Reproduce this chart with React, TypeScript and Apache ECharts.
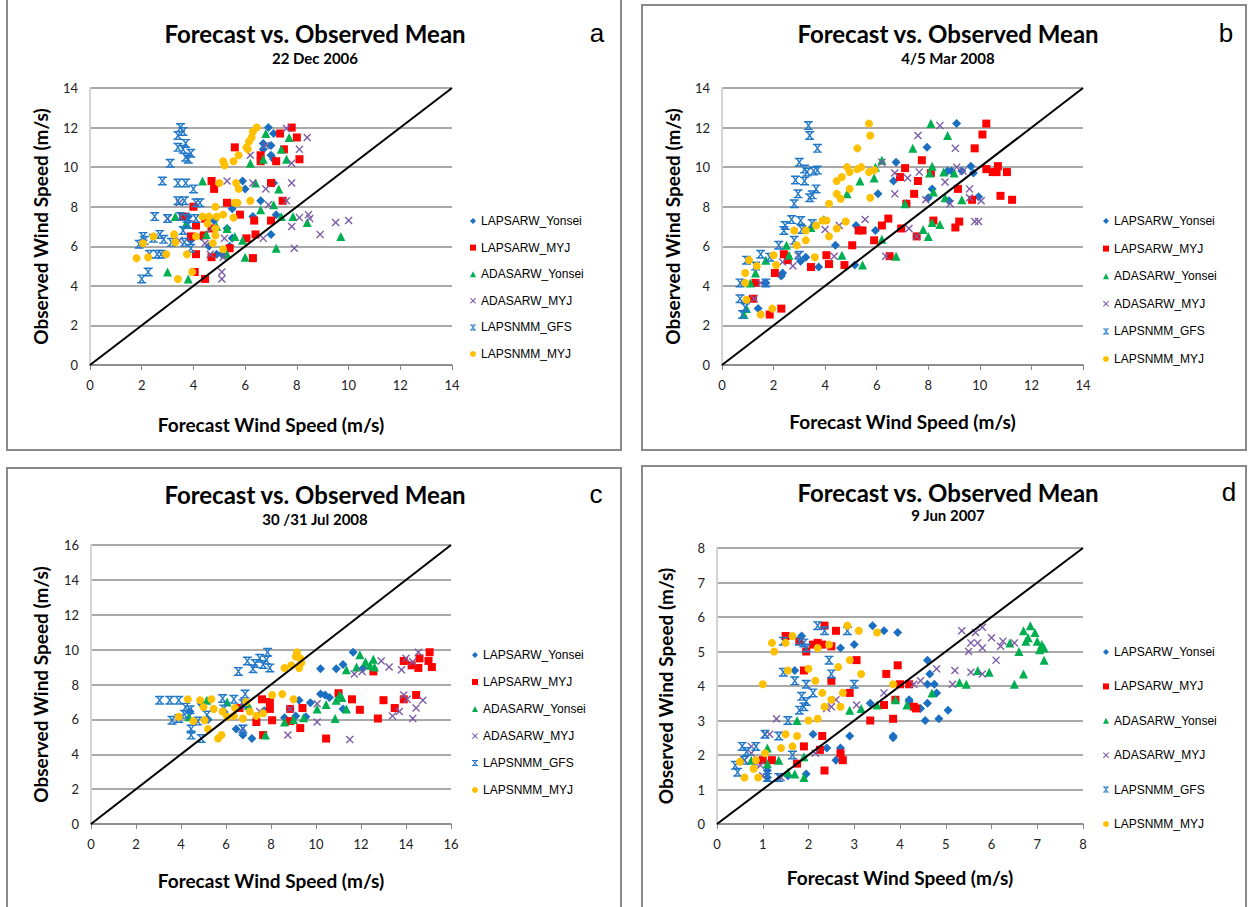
import React, { useEffect, useRef } from "react";
import * as echarts from "echarts";

// ---------- data ----------
const seriesNames = ["LAPSARW_Yonsei", "LAPSARW_MYJ", "ADASARW_Yonsei", "ADASARW_MYJ", "LAPSNMM_GFS", "LAPSNMM_MYJ"];

// Panel a: 22 Dec 2006
const aLapsarwYonsei = [[6.9,12.0],[7.1,11.7],[6.7,11.2],[7.0,11.1],[6.7,10.9],[7.0,10.6],[7.1,10.4],[5.9,9.3],[6.0,8.9],[7.1,9.2],[6.6,8.3],[5.5,7.9],[7.2,7.6],[3.8,7.5],[5.3,6.9],[7.0,6.6],[4.3,6.5],[4.9,5.6],[5.1,5.6],[5.4,6.0],[5.5,6.4],[4.6,6.0],[3.9,6.3],[6.3,7.5],[4.8,7.3]];
const aLapsarwMyj = [[7.8,12.0],[7.35,11.7],[8.0,11.5],[5.6,11.0],[6.6,10.6],[7.5,10.9],[8.1,10.4],[7.2,10.3],[6.6,10.3],[4.7,9.3],[4.8,8.9],[7.0,9.2],[5.3,8.2],[7.45,8.3],[4.0,8.0],[3.6,7.5],[4.45,7.4],[5.8,7.6],[6.35,7.3],[7.0,7.3],[4.1,7.05],[4.7,6.9],[3.9,6.5],[4.4,6.55],[5.4,5.9],[6.4,6.6],[6.05,6.4],[4.1,5.6],[4.7,5.45],[6.3,5.4],[4.05,4.7],[4.45,4.35]];
const aAdasarwYonsei = [[6.8,11.7],[7.7,11.5],[7.4,10.9],[6.2,10.2],[6.7,10.4],[7.6,10.4],[4.35,9.3],[6.4,9.2],[7.3,8.9],[6.6,7.85],[7.1,8.1],[7.4,7.5],[8.4,7.2],[9.7,6.5],[7.2,5.9],[5.3,6.9],[4.5,6.6],[5.6,6.5],[5.9,6.3],[3.3,7.5],[3.7,7.1],[4.9,7.0],[5.3,5.6],[6.0,5.45],[3.0,4.7],[3.8,4.35],[7.85,7.5]];
const aAdasarwMyj = [[7.6,11.95],[8.4,11.5],[8.1,10.9],[7.8,10.2],[6.8,11.1],[6.2,10.6],[5.3,9.3],[6.3,9.2],[6.8,8.9],[7.8,9.2],[7.6,8.3],[6.9,8.1],[3.45,8.2],[8.45,7.6],[8.5,7.4],[8.1,7.45],[9.5,7.2],[10.0,7.3],[7.8,7.0],[6.7,6.4],[8.9,6.6],[7.9,5.9],[3.0,7.4],[4.7,6.9],[5.2,6.4],[4.45,6.15],[4.65,5.6],[5.15,5.45],[5.1,4.7],[5.1,4.35],[3.45,6.3]];
const aLapsnmmGfs = [[3.5,12.0],[3.6,11.8],[3.4,11.6],[3.4,11.0],[3.7,11.2],[3.6,10.9],[3.7,10.5],[3.8,10.4],[3.1,10.2],[3.9,10.7],[2.8,9.3],[3.4,9.2],[3.7,9.2],[4.0,8.9],[3.4,8.3],[3.65,8.3],[4.1,8.2],[4.25,8.2],[2.5,7.5],[3.0,7.4],[3.5,7.5],[3.75,7.4],[4.1,7.4],[3.8,7.1],[3.6,6.8],[2.05,6.5],[2.1,6.3],[2.45,6.4],[2.7,6.6],[2.85,6.35],[3.15,6.2],[3.65,6.2],[3.9,5.9],[2.3,5.6],[2.6,5.6],[2.75,5.6],[2.25,4.7],[2.0,4.35],[1.9,6.1]];
const aLapsnmmMyj = [[6.45,12.0],[6.3,11.8],[6.25,11.5],[6.15,11.3],[6.05,11.0],[6.1,10.9],[5.75,10.6],[5.55,10.3],[5.15,10.3],[5.2,10.1],[5.0,9.2],[5.65,9.2],[5.75,8.9],[5.6,8.2],[5.7,8.2],[6.2,8.3],[4.85,8.0],[4.35,7.5],[4.6,7.5],[4.9,7.5],[5.15,7.6],[5.55,7.45],[4.55,7.15],[4.85,6.9],[2.45,6.5],[2.05,6.15],[3.25,6.6],[3.3,6.2],[4.1,6.5],[4.85,6.55],[4.75,6.15],[1.8,5.4],[2.25,5.45],[2.95,5.6],[3.75,5.6],[5.15,5.85],[3.95,4.7],[3.4,4.35]];

// Panel b: 4/5 Mar 2008
const bLapsarwYonsei = [[9.1,12.2],[7.95,11.0],[6.75,10.25],[8.9,9.8],[9.65,10.05],[9.75,9.7],[9.3,9.8],[8.75,9.8],[6.65,9.3],[8.15,8.9],[8.0,8.45],[8.8,8.3],[6.05,8.65],[5.2,7.05],[5.95,6.8],[4.4,6.05],[3.75,4.95],[3.25,5.45],[3.05,5.25],[2.35,4.65],[1.7,4.15],[5.15,5.05],[7.15,8.15],[2.3,4.5],[1.4,2.85],[9.95,8.5]];
const bLapsarwMyj = [[10.25,12.2],[10.1,11.65],[9.8,10.95],[7.75,10.35],[7.1,9.95],[8.1,9.7],[7.6,9.3],[6.9,9.5],[7.45,8.65],[9.15,8.9],[7.15,8.15],[9.7,8.35],[10.25,9.9],[10.5,9.75],[10.7,10.05],[10.65,9.75],[11.05,9.75],[10.8,8.55],[11.25,8.35],[6.45,7.4],[6.2,7.05],[5.45,6.8],[5.3,6.8],[6.95,6.9],[7.55,6.5],[8.2,7.3],[9.2,7.25],[9.05,6.95],[5.9,6.3],[5.05,6.05],[4.05,5.55],[6.5,5.5],[4.15,5.1],[3.45,4.95],[4.75,5.05],[2.4,5.6],[2.55,5.3],[2.05,4.65],[1.3,4.15],[1.2,3.35],[1.85,2.55],[2.3,2.85]];
const bAdasarwYonsei = [[8.1,12.2],[8.75,11.6],[7.4,10.95],[6.2,10.35],[5.95,10.0],[5.9,9.45],[5.35,9.3],[8.15,10.05],[8.05,9.7],[8.6,9.75],[9.0,9.7],[9.3,8.35],[7.1,8.15],[8.2,8.75],[4.85,8.65],[3.95,7.35],[3.45,6.95],[7.8,6.85],[8.45,7.1],[8.15,7.2],[8.0,6.5],[6.2,6.35],[2.5,6.05],[2.6,5.55],[4.65,5.55],[6.75,5.5],[5.45,5.05],[1.7,5.3],[1.3,4.65],[1.1,4.15],[0.95,2.85],[0.85,2.55],[8.65,8.45]];
const bAdasarwMyj = [[8.45,12.1],[7.6,11.6],[9.05,10.95],[6.2,10.25],[6.7,9.7],[7.65,9.75],[7.2,9.45],[9.1,10.0],[9.35,9.8],[8.65,9.25],[9.6,8.9],[7.9,8.35],[8.85,8.15],[9.6,8.45],[10.05,8.3],[6.7,8.65],[5.55,7.35],[4.55,7.05],[4.0,6.85],[7.25,6.9],[7.55,6.5],[9.8,7.25],[9.95,7.25],[6.35,5.5],[4.35,5.5],[2.95,5.55],[2.75,5.0],[2.35,5.2],[1.5,4.15],[1.25,3.35]];
const bLapsnmmGfs = [[3.35,12.1],[3.4,11.6],[3.7,10.95],[3.0,10.25],[3.2,9.9],[3.3,9.75],[3.55,9.8],[3.7,9.85],[2.85,9.35],[3.2,9.3],[3.65,8.9],[2.95,8.65],[3.4,8.45],[3.5,8.6],[2.8,8.15],[2.7,7.35],[3.05,7.3],[2.45,7.05],[3.5,7.15],[2.4,6.8],[2.8,6.3],[3.1,6.85],[2.2,6.05],[1.5,5.6],[1.85,5.45],[3.0,5.55],[0.95,5.3],[1.3,5.0],[0.7,4.15],[1.7,4.15],[0.7,3.35],[0.9,2.9],[0.8,2.55]];
const bLapsnmmMyj = [[5.7,12.2],[5.75,11.6],[5.25,10.95],[4.85,10.0],[4.95,9.75],[5.25,9.9],[5.4,10.0],[5.7,9.75],[5.9,9.85],[4.45,9.3],[4.65,9.5],[4.95,8.9],[4.45,8.65],[4.6,8.4],[4.15,8.15],[5.75,8.45],[4.05,7.3],[3.9,7.3],[4.45,6.9],[4.8,7.25],[4.15,6.5],[3.65,7.05],[3.25,6.8],[3.25,6.3],[2.8,6.8],[2.9,6.05],[2.0,5.55],[2.1,5.05],[3.6,5.45],[1.35,5.0],[1.05,5.3],[0.9,4.65],[0.9,4.15],[0.95,3.3],[1.95,2.85],[1.5,2.55]];

// Panel c: 30/31 Jul 2008
const cLapsarwYonsei = [[11.65,9.85],[11.2,9.15],[10.9,8.9],[10.2,8.9],[12.1,8.95],[10.2,7.45],[10.4,7.4],[10.6,7.25],[9.25,7.1],[9.75,6.95],[9.1,6.2],[9.55,6.15],[7.15,4.9],[6.75,5.1],[4.4,6.45],[5.9,6.45],[6.45,5.45],[11.2,6.6],[7.7,6.5],[8.6,6.1],[5.2,6.0],[4.9,6.9]];
const cLapsarwMyj = [[15.05,9.85],[14.6,9.5],[15.0,9.35],[14.55,8.95],[15.15,9.0],[13.9,9.35],[14.25,9.1],[12.55,8.75],[14.45,7.4],[13.9,7.15],[13.0,7.1],[13.5,6.65],[12.75,6.05],[11.95,6.55],[11.6,7.15],[11.0,7.5],[10.45,4.9],[9.3,5.5],[8.85,5.9],[8.05,5.95],[7.65,5.1],[7.6,7.15],[7.95,7.0],[7.95,6.6],[9.4,6.65],[6.6,6.65],[7.35,5.85],[8.85,6.6]];
const cAdasarwYonsei = [[11.95,9.7],[12.55,9.45],[12.4,9.1],[11.35,8.85],[11.8,9.0],[12.6,9.0],[12.2,9.3],[11.05,7.4],[10.9,7.1],[11.15,7.25],[11.35,6.6],[10.45,6.85],[10.05,6.6],[9.45,6.1],[8.6,5.85],[7.75,5.1],[5.15,7.1],[4.35,6.15],[7.0,6.8],[10.85,6.05],[6.05,7.0],[9.0,6.0]];
const cAdasarwMyj = [[14.55,9.85],[14.0,9.5],[14.3,9.3],[13.8,8.85],[12.9,9.35],[13.25,9.0],[12.05,8.75],[14.75,7.1],[14.45,6.65],[13.9,7.4],[14.05,7.15],[13.7,6.45],[13.4,6.2],[14.3,6.05],[11.5,4.85],[10.05,6.9],[10.05,5.85],[8.85,6.6],[8.75,5.1],[6.75,5.5],[6.8,7.05],[7.5,6.45],[11.7,8.6]];
const cLapsnmmGfs = [[7.85,9.85],[7.5,9.5],[6.95,9.35],[7.3,9.2],[7.65,9.15],[7.2,8.9],[7.95,8.95],[6.55,8.75],[7.8,9.4],[3.05,7.1],[3.5,7.1],[3.9,7.1],[5.85,7.2],[6.35,7.15],[6.85,7.45],[4.2,6.7],[4.4,6.55],[3.9,6.05],[3.6,5.95],[4.75,5.9],[4.45,5.45],[4.45,5.1],[4.9,4.9],[5.9,6.6],[5.15,6.25],[6.75,5.45],[6.75,6.9],[4.15,6.3]];
const cLapsnmmMyj = [[9.15,9.85],[9.3,9.5],[9.35,9.25],[8.9,9.1],[8.6,8.95],[9.25,8.95],[9.1,9.6],[8.05,7.4],[8.5,7.45],[9.0,7.15],[4.3,7.15],[4.85,7.1],[5.35,7.15],[5.0,6.7],[5.45,6.6],[5.85,6.45],[6.05,6.15],[6.35,6.2],[6.75,6.05],[7.05,6.45],[7.35,6.2],[7.65,6.35],[3.9,6.15],[4.55,5.9],[5.2,5.45],[5.8,5.1],[5.65,4.9],[6.4,6.65],[6.9,7.0],[5.05,5.95]];

// Panel d: 9 Jun 2007
const dLapsarwYonsei = [[3.4,5.75],[3.65,5.6],[3.95,5.55],[1.85,5.45],[3.0,5.2],[2.7,5.1],[1.7,4.45],[3.35,3.5],[4.2,3.6],[2.1,2.6],[2.9,2.55],[3.85,2.55],[2.4,2.2],[2.7,2.2],[2.6,1.85],[1.1,1.55],[1.95,1.45],[1.1,1.35],[1.55,1.4],[4.6,4.75],[4.65,4.35],[4.75,4.05],[4.6,4.05],[4.2,3.55],[4.6,3.5],[4.45,3.35],[5.05,3.3],[4.55,3.0],[4.85,3.05],[3.85,2.5],[4.8,3.8]];
const dLapsarwMyj = [[2.35,5.75],[2.6,5.6],[1.5,5.45],[1.8,5.3],[1.95,5.0],[2.1,5.2],[2.2,5.25],[2.3,5.2],[2.5,5.15],[3.05,4.75],[1.9,4.45],[2.5,4.15],[2.9,3.8],[3.35,3.0],[3.7,4.35],[3.95,4.6],[4.0,4.05],[4.2,4.05],[3.85,3.05],[4.3,3.4],[2.3,2.55],[1.9,2.25],[2.25,2.15],[2.7,2.05],[2.75,1.85],[1.2,1.85],[1.75,1.75],[2.35,1.55],[1.0,1.85],[3.65,3.45],[3.9,3.6],[4.35,3.35]];
const dAdasarwYonsei = [[2.9,3.3],[3.15,3.35],[3.5,3.45],[3.9,3.6],[4.15,3.45],[1.75,3.0],[1.9,1.95],[1.7,1.45],[1.9,1.35],[1.55,1.5],[1.1,2.2],[1.35,1.85],[0.75,1.85],[1.1,1.75],[5.3,4.1],[5.45,4.05],[5.7,4.45],[5.95,4.4],[6.5,4.05],[6.7,4.35],[6.85,5.75],[6.7,5.6],[6.95,5.55],[6.8,5.4],[6.75,5.3],[7.0,5.3],[7.1,5.2],[7.15,5.1],[7.05,5.05],[6.6,5.0],[6.4,5.25],[7.15,4.75],[4.7,3.8]];
const dAdasarwMyj = [[5.35,5.6],[5.65,5.55],[5.8,5.7],[6.0,5.4],[5.55,5.25],[5.7,5.25],[5.8,5.1],[5.5,5.0],[6.25,5.3],[6.5,5.25],[6.2,5.15],[6.1,4.75],[5.2,4.45],[5.55,4.4],[5.8,4.35],[5.15,4.05],[4.8,4.5],[4.45,4.15],[4.3,4.05],[1.3,3.05],[2.4,3.35],[2.5,3.4],[2.6,3.6],[3.05,3.45],[3.65,3.8],[2.15,2.05],[1.05,2.6],[1.15,2.6],[0.75,2.25],[0.75,2.05],[0.85,1.75],[0.95,1.7],[1.0,1.4],[1.4,1.35],[0.6,1.85]];
const dLapsnmmGfs = [[2.2,5.75],[2.35,5.6],[2.85,5.6],[1.45,5.3],[1.9,5.25],[1.95,5.1],[2.45,4.75],[1.45,4.4],[2.5,4.35],[1.7,4.15],[1.95,4.05],[3.0,4.05],[2.1,3.8],[1.85,3.7],[1.95,3.55],[1.9,3.4],[1.8,3.3],[1.55,3.0],[1.05,2.6],[1.35,2.55],[0.55,2.25],[0.65,2.1],[0.4,1.7],[0.45,1.5],[0.6,1.85],[0.85,2.25],[1.65,2.0],[1.35,1.35],[1.1,1.35],[1.8,5.3]];
const dLapsnmmMyj = [[2.85,5.75],[3.1,5.6],[3.5,5.55],[1.65,5.45],[1.2,5.25],[1.5,5.25],[1.25,5.0],[2.45,5.2],[2.2,5.1],[2.9,4.75],[3.15,4.35],[2.65,4.55],[2.0,4.5],[1.55,4.45],[1.0,4.05],[2.15,4.15],[3.85,4.05],[2.75,3.8],[2.3,3.8],[2.5,3.6],[2.7,3.4],[2.35,3.4],[2.2,3.05],[2.0,3.0],[1.75,2.55],[1.5,2.6],[1.65,2.25],[1.4,2.2],[1.05,2.05],[0.5,1.8],[0.8,1.6],[0.6,1.35],[0.9,1.35],[0.85,1.85]];

// 1:1 reference lines
const diagA = [[0, 0], [14, 14]];
const diagB = [[0, 0], [14, 14]];
const diagC = [[0, 0], [16, 16]];
const diagD = [[0, 0], [8, 8]];

const subtitles = ["22 Dec 2006", "4/5 Mar 2008", "30 /31 Jul 2008", "9 Jun 2007"];
const panelLetters = ["a", "b", "c", "d"];
const axisMax = [14, 14, 16, 8];
const axisInterval = [2, 2, 2, 1];

// ---------- styling ----------
const COLORS = ["#1A6FC2", "#FF0000", "#00B050", "#7B5BA6", "#2278C8", "#FFC000"];
const X_PATH = "path://M0,1.2 L1.2,0 L5,3.8 L8.8,0 L10,1.2 L6.2,5 L10,8.8 L8.8,10 L5,6.2 L1.2,10 L0,8.8 L3.8,5 Z";
const STAR_PATH = "path://M0,0 L10,0 L10,1.6 L8.4,1.6 L5.9,5 L8.4,8.4 L10,8.4 L10,10 L0,10 L0,8.4 L1.6,8.4 L4.1,5 L1.6,1.6 L0,1.6 Z M3.5,1.6 L5,3.6 L6.5,1.6 Z M3.5,8.4 L6.5,8.4 L5,6.4 Z";
const SYMBOLS = ["diamond", "rect", "triangle", X_PATH, STAR_PATH, "circle"];
const SIZES = [9, 8, 9, 8, 9, 8];

const panels = [
  { data: [aLapsarwYonsei, aLapsarwMyj, aAdasarwYonsei, aAdasarwMyj, aLapsnmmGfs, aLapsnmmMyj], diag: diagA,
    grid: { left: 90, top: 88, width: 362, height: 277 }, legend: { left: 465, top: 208, gap: 10.6 },
    xGap: 49.5, yGap: 40.5,
    title: [315, 33], sub: [315, 58], letter: [597, 33] },
  { data: [bLapsarwYonsei, bLapsarwMyj, bAdasarwYonsei, bAdasarwMyj, bLapsnmmGfs, bLapsnmmMyj], diag: diagB,
    grid: { left: 722, top: 88, width: 361, height: 277 }, legend: { left: 1098, top: 208, gap: 11.6 },
    xGap: 46.5, yGap: 40.5,
    title: [948, 33], sub: [948, 58], letter: [1226, 33] },
  { data: [cLapsarwYonsei, cLapsarwMyj, cAdasarwYonsei, cAdasarwMyj, cLapsnmmGfs, cLapsnmmMyj], diag: diagC,
    grid: { left: 91, top: 545, width: 360, height: 279 }, legend: { left: 467, top: 642, gap: 11 },
    xGap: 46.5, yGap: 41.5,
    title: [315, 494], sub: [315, 519], letter: [596, 494] },
  { data: [dLapsarwYonsei, dLapsarwMyj, dAdasarwYonsei, dAdasarwMyj, dLapsnmmGfs, dLapsnmmMyj], diag: diagD,
    grid: { left: 717, top: 548, width: 366, height: 276 }, legend: { left: 1098, top: 639, gap: 18.4 },
    xGap: 43.5, yGap: 42.5,
    title: [948, 492], sub: [948, 515], letter: [1229, 492] },
];

function buildOption() {
  const grid: any[] = [];
  const xAxis: any[] = [];
  const yAxis: any[] = [];
  const series: any[] = [];
  const legend: any[] = [];
  const graphic: any[] = [];

  // panel frames
  const frames = [
    [7, -5, 614, 455],
    [642, 5, 604, 445],
    [7, 468, 614, 460],
    [642, 466, 604, 460],
  ];
  frames.forEach((f) => {
    graphic.push({ type: "rect", silent: true, z: 0, shape: { x: f[0], y: f[1], width: f[2], height: f[3] },
      style: { fill: "none", stroke: "#8a8a8a", lineWidth: 2 } });
  });

  panels.forEach((p, i) => {
    grid.push({ ...p.grid, containLabel: false });
    xAxis.push({
      type: "value", gridIndex: i, min: 0, max: axisMax[i], interval: axisInterval[i],
      name: "Forecast Wind Speed (m/s)", nameLocation: "middle", nameGap: p.xGap,
      nameTextStyle: { fontFamily: "Lato", fontWeight: "bold", fontSize: 19, color: "#000" },
      axisLine: { show: true, onZero: false, lineStyle: { color: "#868686", width: 1.5 } },
      axisTick: { show: true, length: 5, lineStyle: { color: "#868686", width: 1 } },
      axisLabel: { fontFamily: "Lato", fontSize: 13, color: "#222", margin: 13 },
      splitLine: { show: false },
    });
    yAxis.push({
      type: "value", gridIndex: i, min: 0, max: axisMax[i], interval: axisInterval[i],
      name: "Observed Wind Speed (m/s)", nameLocation: "middle", nameGap: p.yGap,
      nameTextStyle: { fontFamily: "Lato", fontWeight: "bold", fontSize: 19, color: "#000" },
      axisLine: { show: true, onZero: false, lineStyle: { color: "#d4d4d4", width: 2 } },
      axisTick: { show: false },
      axisLabel: { fontFamily: "Lato", fontSize: 13, color: "#222", margin: 12 },
      splitLine: { show: true, lineStyle: { color: "#8c8c8c", width: 1.5 } },
    });
    p.data.forEach((d, k) => {
      series.push({
        type: "scatter", name: seriesNames[k], xAxisIndex: i, yAxisIndex: i, data: d,
        symbol: SYMBOLS[k], symbolSize: SIZES[k], itemStyle: { color: COLORS[k], opacity: 1 },
        emphasis: { disabled: true },
      });
    });
    series.push({
      type: "line", name: "1:1", xAxisIndex: i, yAxisIndex: i, data: p.diag, symbol: "none",
      lineStyle: { color: "#000", width: 2 }, z: 3, silent: true,
    });
    legend.push({
      orient: "vertical", left: p.legend.left, top: p.legend.top, itemGap: p.legend.gap,
      itemWidth: 6, itemHeight: 6, selectedMode: false,
      data: seriesNames.map((n, k) => ({ name: n, icon: SYMBOLS[k] })),
      textStyle: { fontFamily: "Liberation Sans", fontSize: 12, color: "#000", lineHeight: 16 },
    });
    graphic.push({ type: "text", x: p.title[0], y: p.title[1], silent: true,
      style: { text: "Forecast vs. Observed Mean", fontFamily: "Lato", fontWeight: "bold", fontSize: 24, fill: "#000", align: "center", verticalAlign: "middle" } });
    graphic.push({ type: "text", x: p.sub[0], y: p.sub[1], silent: true,
      style: { text: subtitles[i], fontFamily: "Lato", fontWeight: "bold", fontSize: 15, fill: "#000", align: "center", verticalAlign: "middle" } });
    graphic.push({ type: "text", x: p.letter[0], y: p.letter[1], silent: true,
      style: { text: panelLetters[i], fontFamily: "Liberation Sans", fontSize: 26, fill: "#000", align: "center", verticalAlign: "middle" } });
  });

  return { animation: false, backgroundColor: "#fff", grid, xAxis, yAxis, series, legend, graphic };
}

export default function App() {
  const ref = useRef<HTMLDivElement>(null);
  useEffect(() => {
    if (!ref.current) return;
    const chart = echarts.init(ref.current, null, { renderer: "svg" });
    chart.setOption(buildOption());
    return () => chart.dispose();
  }, []);
  return <div ref={ref} style={{ position: "fixed", left: 0, top: 0, width: 1250, height: 907, background: "#fff" }} />;
}
